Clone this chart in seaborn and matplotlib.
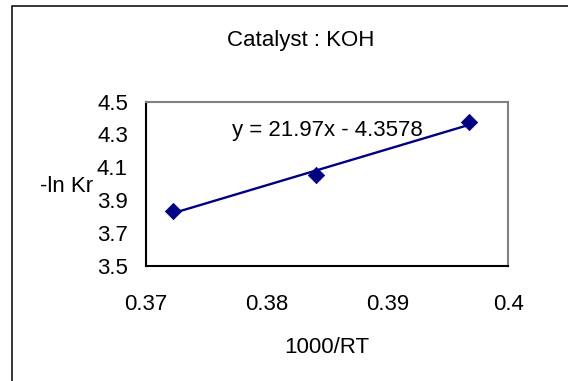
import numpy as np
import pandas as pd
import seaborn as sns
import matplotlib
matplotlib.use("Agg")
import matplotlib.pyplot as plt
from matplotlib.patches import Rectangle

# Arrhenius-type data: 1000/RT versus -ln Kr (KOH catalyst, 50/40/30 °C)
inv_rt = [0.37222, 0.38411, 0.39678]
neg_ln_kr = [3.836, 4.050, 4.377]

# linear trendline coefficients
slope = 21.97
intercept = -4.3578

x_ticks = [0.37, 0.38, 0.39, 0.40]
x_tick_labels = ["0.37", "0.38", "0.39", "0.4"]
y_ticks = [3.5, 3.7, 3.9, 4.1, 4.3, 4.5]
y_tick_labels = ["3.5", "3.7", "3.9", "4.1", "4.3", "4.5"]

title = "Catalyst : KOH"
x_label = "1000/RT"
y_label = "-ln Kr"
equation = f"y = {slope:.2f}x - {abs(intercept):.4f}"

sns.set_theme(style="white")
plt.rcParams["font.family"] = ["Liberation Sans", "DejaVu Sans"]
FS = 16
navy = "#000080"

df = pd.DataFrame({"x": inv_rt, "y": neg_ln_kr})
x_fit = np.array([min(inv_rt), max(inv_rt)])
fit_df = pd.DataFrame({"x": x_fit, "y": slope * x_fit + intercept})

fig = plt.figure(figsize=(5.68, 3.81), dpi=100)
ax = fig.add_axes([0.2570, 0.3026, 0.6379, 0.4305])

sns.lineplot(data=fit_df, x="x", y="y", ax=ax, color=navy, lw=1.7, zorder=2)
sns.scatterplot(data=df, x="x", y="y", ax=ax, marker="D", s=70,
                color=navy, edgecolor=navy, linewidth=0.5, zorder=3)

ax.set_xlim(0.37, 0.40)
ax.set_ylim(3.5, 4.5)
ax.set_xticks(x_ticks)
ax.set_xticklabels(x_tick_labels)
ax.set_yticks(y_ticks)
ax.set_yticklabels(y_tick_labels)
ax.tick_params(axis="both", direction="in", length=5.5, width=1.0,
               color="black", labelsize=FS, labelcolor="black")
ax.tick_params(axis="x", pad=20.5)
ax.tick_params(axis="y", pad=13)

for side in ("left", "bottom"):
    ax.spines[side].set_color("black")
    ax.spines[side].set_linewidth(1.5)
for side in ("top", "right"):
    ax.spines[side].set_color("#808080")
    ax.spines[side].set_linewidth(1.5)

ax.set_xlabel(x_label, fontsize=FS, color="black")
ax.xaxis.set_label_coords(0.5, -0.53)
ax.xaxis.label.set_va("baseline")

ax.set_ylabel(y_label, fontsize=FS, color="black", rotation=0)
ax.yaxis.set_label_coords(-0.145, 0.48)
ax.yaxis.label.set_ha("right")
ax.yaxis.label.set_va("center")

ax.set_title(title, fontsize=FS, color="black", x=0.427, y=1.339,
             va="baseline", pad=0)

ax.text(0.501, 4.289, equation, transform=ax.get_yaxis_transform(),
        ha="center", va="baseline", fontsize=FS, color="black")

# outer chart-area frame
fig.add_artist(Rectangle((11.5 / 568, -0.2), 1.2, 0.2 + 1 - 6 / 381,
                         transform=fig.transFigure, fill=False,
                         edgecolor="black", lw=1.1))

fig.savefig("out.png", dpi=100)
